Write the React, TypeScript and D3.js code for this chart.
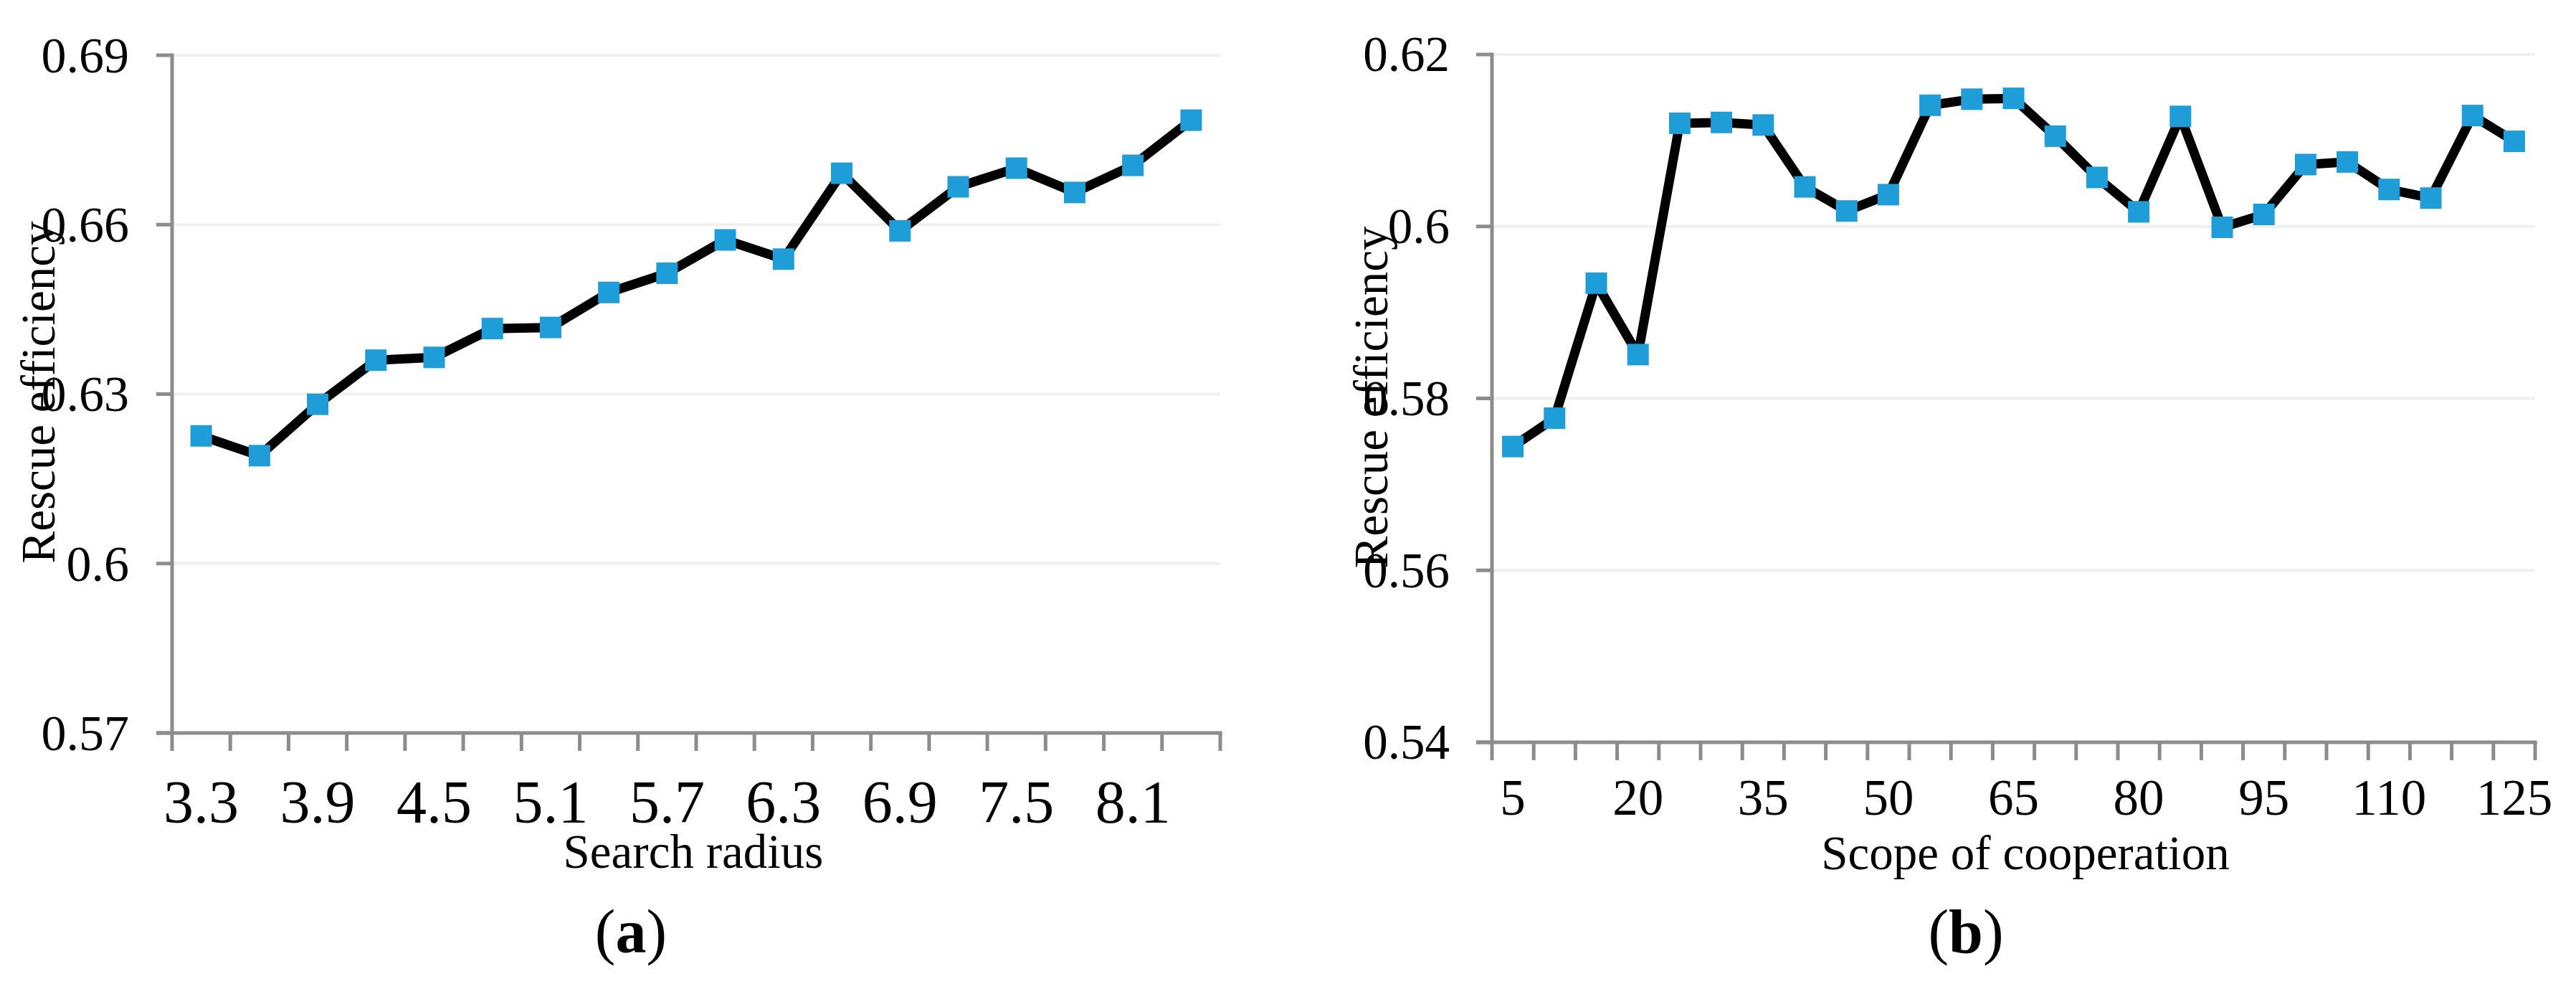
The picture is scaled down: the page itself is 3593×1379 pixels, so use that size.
import React from "react";
import * as d3 from "d3";

// ---------- data ----------
const radiusCategories = ["3.3","3.6","3.9","4.2","4.5","4.8","5.1","5.4","5.7","6.0","6.3","6.6","6.9","7.2","7.5","7.8","8.1","8.4"];
const radiusLabels = ["3.3","3.9","4.5","5.1","5.7","6.3","6.9","7.5","8.1"];
const radiusValues = [0.6226,0.6191,0.6282,0.6360,0.6365,0.6416,0.6418,0.6480,0.6514,0.6573,0.6539,0.6691,0.6589,0.6667,0.6700,0.6657,0.6705,0.6785];
const radiusTicks = [0.57,0.6,0.63,0.66,0.69];
const radiusTickLabels = ["0.57","0.6","0.63","0.66","0.69"];

const scopeCategories = ["5","10","15","20","25","30","35","40","45","50","55","60","65","70","75","80","85","90","95","100","105","110","115","120","125"];
const scopeLabels = ["5","20","35","50","65","80","95","110","125"];
const scopeValues = [0.5744,0.5777,0.5934,0.5851,0.6120,0.6121,0.6118,0.6046,0.6018,0.6037,0.6141,0.6148,0.6149,0.6105,0.6057,0.6017,0.6128,0.5999,0.6014,0.6072,0.6075,0.6043,0.6033,0.6129,0.6099];
const scopeTicks = [0.54,0.56,0.58,0.6,0.62];
const scopeTickLabels = ["0.54","0.56","0.58","0.6","0.62"];

const FONT = "'Liberation Serif', 'Times New Roman', serif";
const AXIS = "#8c8c8c";
const GRID = "#f0f0f0";
const MARK = "#1e9dd8";

type PanelProps = {
  cats: string[];
  labels: string[];
  values: number[];
  ticks: number[];
  tickLabels: string[];
  x0: number; x1: number; yTop: number; yBot: number;
  yLabelRight: number; yLabelSize: number;
  xLabelBaseline: number; xLabelSize: number;
  xTitle: string; xTitleX: number; xTitleBaseline: number;
  yTitleX: number; yTitleY: number;
  caption: string; captionX: number;
};

function Panel(p: PanelProps) {
  const x = d3.scaleBand<string>().domain(p.cats).range([p.x0, p.x1]).padding(0);
  const y = d3.scaleLinear().domain([p.ticks[0], p.ticks[p.ticks.length - 1]]).range([p.yBot, p.yTop]);
  const bw = x.bandwidth();
  const cx = (c: string) => (x(c) as number) + bw / 2;
  const pts = p.values.map((v, i) => [cx(p.cats[i]), y(v)] as [number, number]);
  const line = d3.line<[number, number]>().x(d => d[0]).y(d => d[1]);
  const boundaries = p.cats.map(c => x(c) as number).concat([p.x1]);
  const ms = 30;
  return (
    <g>
      {p.ticks.slice(1).map(t => (
        <line key={"g" + t} x1={p.x0} x2={p.x1} y1={y(t)} y2={y(t)} stroke={GRID} strokeWidth={4} />
      ))}
      {/* y axis */}
      <line x1={p.x0} x2={p.x0} y1={p.yTop - 2.5} y2={p.yBot} stroke={AXIS} strokeWidth={5} />
      {p.ticks.map(t => (
        <line key={"yt" + t} x1={p.x0 - 22} x2={p.x0} y1={y(t)} y2={y(t)} stroke={AXIS} strokeWidth={5} />
      ))}
      {p.ticks.map((t, i) => (
        <text key={"yl" + t} x={p.yLabelRight} y={y(t)} dy="0.34em" textAnchor="end" fontFamily={FONT} fontSize={p.yLabelSize} fill="#000">{p.tickLabels[i]}</text>
      ))}
      {/* x axis */}
      <line x1={p.x0 - 22} x2={p.x1 + 2.5} y1={p.yBot} y2={p.yBot} stroke={AXIS} strokeWidth={5} />
      {boundaries.map((b, i) => (
        <line key={"xt" + i} x1={b} x2={b} y1={p.yBot} y2={p.yBot + 25} stroke={AXIS} strokeWidth={5} />
      ))}
      {p.labels.map(l => (
        <text key={"xl" + l} x={cx(l)} y={p.xLabelBaseline} textAnchor="middle" fontFamily={FONT} fontSize={p.xLabelSize} fill="#000">{l}</text>
      ))}
      {/* series */}
      <path d={line(pts) || ""} fill="none" stroke="#000" strokeWidth={13} strokeLinejoin="round" />
      {pts.map((pt, i) => (
        <rect key={"m" + i} x={pt[0] - ms / 2} y={pt[1] - ms / 2} width={ms} height={ms} fill={MARK} />
      ))}
      {/* titles */}
      <text x={p.xTitleX} y={p.xTitleBaseline} textAnchor="middle" fontFamily={FONT} fontSize={67} fill="#000">{p.xTitle}</text>
      <text transform={`translate(${p.yTitleX},${p.yTitleY}) rotate(-90)`} textAnchor="middle" fontFamily={FONT} fontSize={67} fill="#000">Rescue efficiency</text>
      <text x={p.captionX} y={1328} textAnchor="middle" fontFamily={FONT} fontSize={86} fill="#000">
        (<tspan fontWeight="bold">{p.caption}</tspan>)
      </text>
    </g>
  );
}

export default function App() {
  return (
    <svg width={3593} height={1379} viewBox="0 0 3593 1379" style={{ position: "absolute", left: 0, top: 0, background: "#fff" }}>
      <rect x={0} y={0} width={3593} height={1379} fill="#fff" />
      <Panel
        cats={radiusCategories} labels={radiusLabels} values={radiusValues}
        ticks={radiusTicks} tickLabels={radiusTickLabels}
        x0={240} x1={1702} yTop={77} yBot={1022}
        yLabelRight={180} yLabelSize={70}
        xLabelBaseline={1147} xLabelSize={84}
        xTitle="Search radius" xTitleX={967} xTitleBaseline={1210}
        yTitleX={76} yTitleY={547}
        caption="a" captionX={880}
      />
      <Panel
        cats={scopeCategories} labels={scopeLabels} values={scopeValues}
        ticks={scopeTicks} tickLabels={scopeTickLabels}
        x0={2081} x1={3536} yTop={76} yBot={1035}
        yLabelRight={2022} yLabelSize={69}
        xLabelBaseline={1136} xLabelSize={71}
        xTitle="Scope of cooperation" xTitleX={2825} xTitleBaseline={1212}
        yTitleX={1935} yTitleY={554}
        caption="b" captionX={2742}
      />
    </svg>
  );
}
